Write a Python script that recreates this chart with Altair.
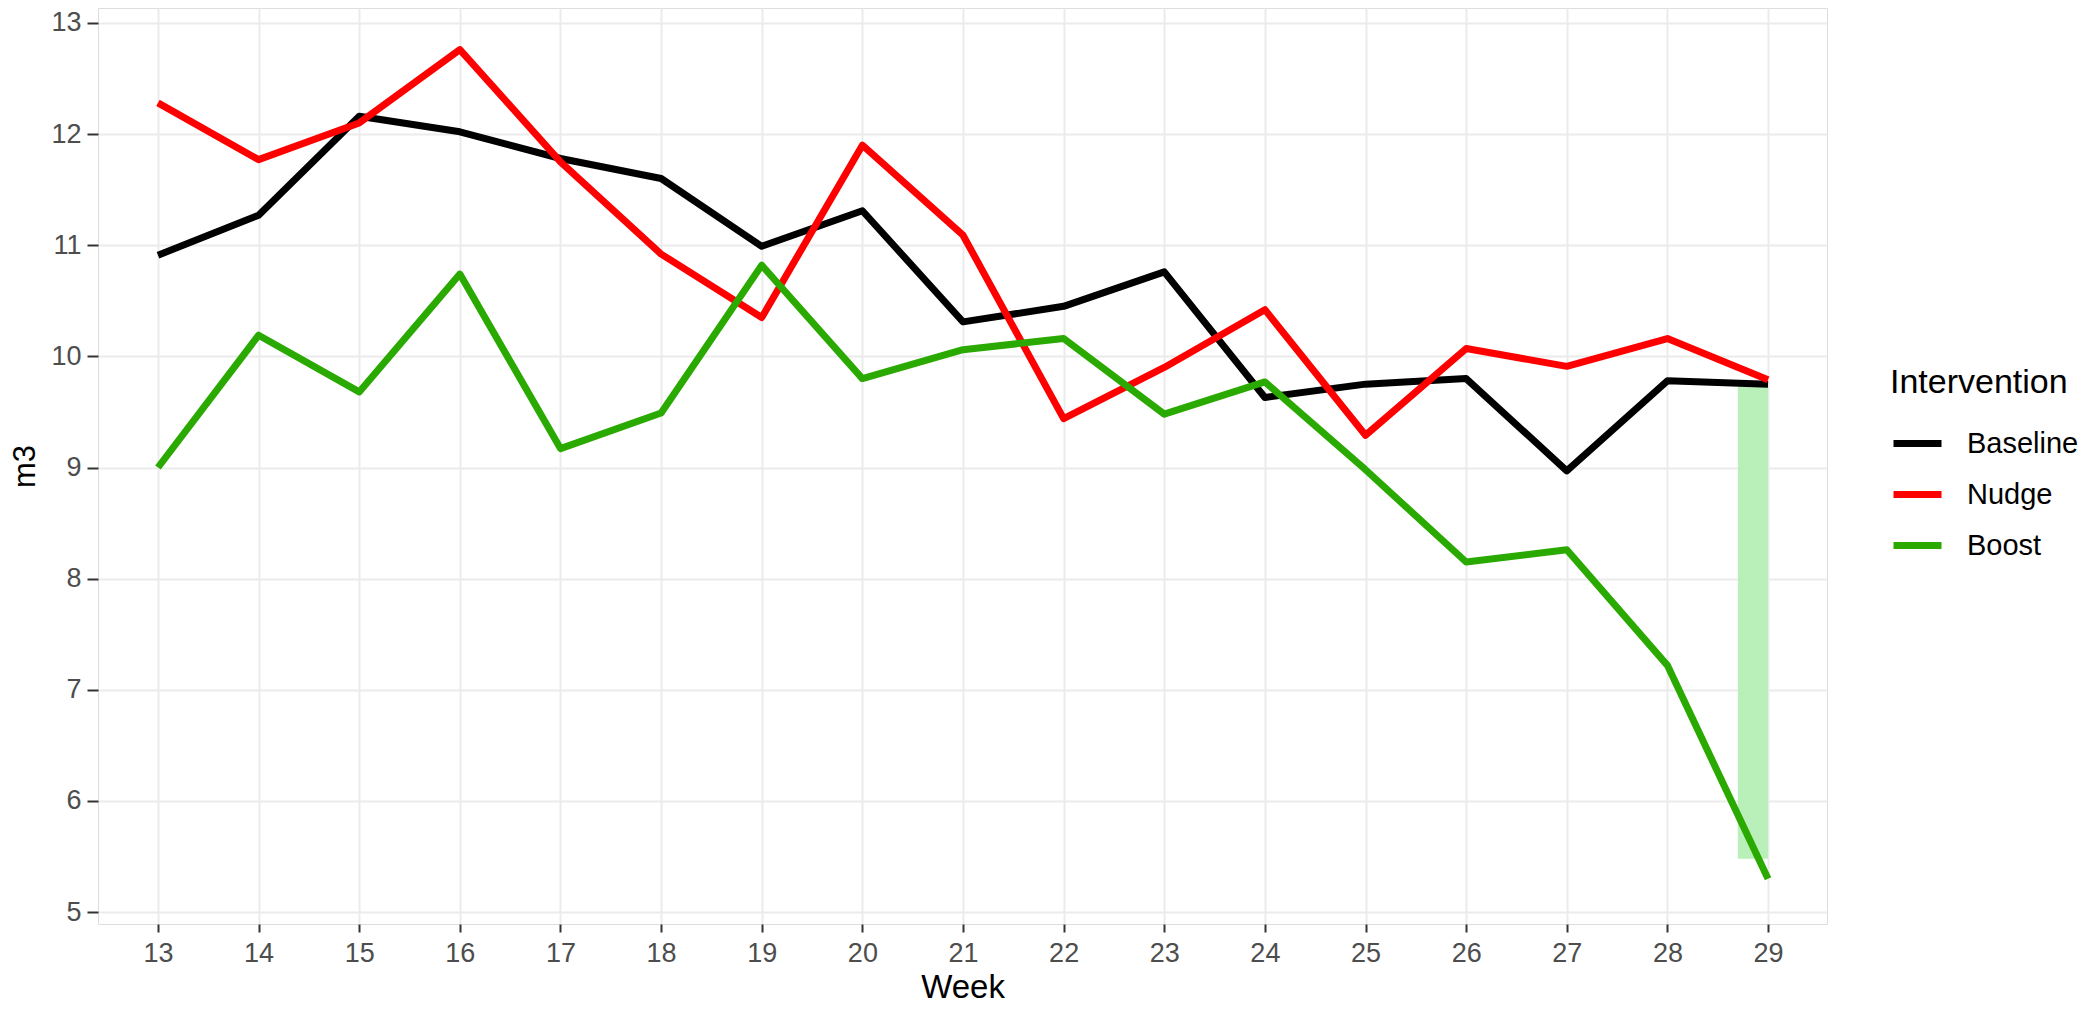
import altair as alt
import pandas as pd

weeks = list(range(13, 30))
baseline = [10.91, 11.27, 12.16, 12.02, 11.78, 11.60, 10.99, 11.31, 10.31, 10.45, 10.76, 9.63, 9.75, 9.80, 8.97, 9.78, 9.75]
nudge = [12.28, 11.77, 12.10, 12.76, 11.75, 10.92, 10.35, 11.90, 11.09, 9.44, 9.90, 10.42, 9.29, 10.07, 9.91, 10.16, 9.79]
boost = [9.00, 10.19, 9.68, 10.74, 9.17, 9.49, 10.82, 9.80, 10.06, 10.16, 9.48, 9.77, 8.98, 8.15, 8.26, 7.22, 5.30]

groups = ["Baseline", "Nudge", "Boost"]
colors = ["#000000", "#FF0000", "#2AAA00"]

rect_x = [28.7]
rect_x2 = [29.0]
rect_ymin = [5.48]
rect_ymax = [9.73]

y_grid = [5, 5.5, 6, 6.5, 7, 7.5, 8, 8.5, 9, 9.5, 10, 10.5, 11, 11.5, 12, 12.5, 13]

rows = []
for g, vals in zip(groups, [baseline, nudge, boost]):
    for w, v in zip(weeks, vals):
        rows.append({"Week": w, "m3": v, "Intervention": g})
df = pd.DataFrame(rows)

rect_df = pd.DataFrame({"x": rect_x, "x2": rect_x2, "y": rect_ymin, "y2": rect_ymax})

FONT = "Liberation Sans"

x_scale = alt.Scale(domain=[12.404, 29.586], nice=False, zero=False)
y_scale = alt.Scale(domain=[4.893, 13.134], nice=False, zero=False)

x_axis = alt.Axis(
    title="Week", values=weeks, format="d", grid=True, gridColor="#EBEBEB", gridWidth=2,
    domain=False, tickColor="#333333", tickWidth=2, tickSize=8,
    labelFont=FONT, labelFontSize=27, labelColor="#4D4D4D", labelPadding=8,
    titleFont=FONT, titleFontSize=33, titleFontWeight="normal", titleColor="#000000", titlePadding=5,
)
y_axis = alt.Axis(
    title="m3", values=y_grid, format="d", grid=True, gridColor="#EBEBEB", gridWidth=2,
    labelExpr="datum.value % 1 === 0 ? datum.label : ''",
    tickOpacity={"condition": {"test": "datum.value % 1 !== 0", "value": 0}, "value": 1},
    domain=False, tickColor="#333333", tickWidth=2, tickSize=11,
    labelFont=FONT, labelFontSize=27, labelColor="#4D4D4D", labelPadding=6,
    titleFont=FONT, titleFontSize=31, titleFontWeight="normal", titleColor="#000000", titlePadding=9,
)

rect = alt.Chart(rect_df).mark_rect(color="#B9F0B9").encode(
    x=alt.X("x:Q", scale=x_scale, axis=x_axis),
    x2="x2:Q",
    y=alt.Y("y:Q", scale=y_scale, axis=y_axis),
    y2="y2:Q",
)

lines = alt.Chart(df).mark_line(strokeWidth=7, strokeJoin="round").encode(
    x=alt.X("Week:Q", scale=x_scale, axis=x_axis),
    y=alt.Y("m3:Q", scale=y_scale, axis=y_axis),
    color=alt.Color(
        "Intervention:N",
        scale=alt.Scale(domain=groups, range=colors),
        sort=groups,
        legend=alt.Legend(
            title="Intervention", orient="none", legendX=1792, legendY=358,
            titleFont=FONT, titleFontSize=34, titleFontWeight="normal", titleColor="#000000",
            titlePadding=16, labelFont=FONT, labelFontSize=29, labelColor="#000000",
            symbolType="stroke", symbolStrokeWidth=7, symbolSize=2304, labelOffset=22,
            rowPadding=8,
        ),
    ),
    order=alt.Order("Week:Q"),
)

chart = alt.layer(rect, lines).properties(
    width=1729, height=916,
    autosize=alt.AutoSizeParams(type="none"),
    padding={"left": 90, "top": 0, "right": 258, "bottom": 80},
).configure_view(stroke="#333333", strokeWidth=2).configure(background="white")

chart.save("out.html", embed_options={"renderer": "svg", "actions": False})
